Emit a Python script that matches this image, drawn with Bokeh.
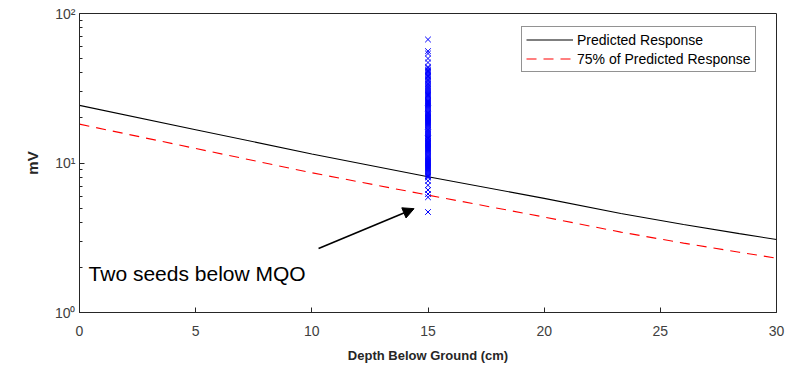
from bokeh.plotting import figure
from bokeh.models import (ColumnDataSource, FixedTicker, Legend, LegendItem,
                          Arrow, NormalHead, Label)
from bokeh.embed import file_html
from bokeh.resources import INLINE

# ---- data ----
depth_cm = [0, 5, 10, 15, 20, 23.3, 26, 28.4, 30]
predicted_mv = [24.3, 16.7, 11.5, 8.1, 5.8, 4.6, 3.88, 3.37, 3.08]
predicted75_mv = [18.2, 12.5, 8.6, 6.1, 4.35, 3.45, 2.91, 2.53, 2.31]

seed_depth_cm = 15.0
seed_mv = [67, 56, 54, 50, 47, 44, 43, 42, 41.2, 40.5, 39.7, 39, 38.2, 37.5,
           36.7, 36, 35.2, 34.5, 33.7, 33, 32.5, 32, 31.5, 31, 30.5, 30, 29.5,
           29, 28.5, 28, 27.5, 27, 26.5, 26, 25.6, 25.2, 24.8, 24.4, 24, 23.6,
           23.2, 22.8, 22.4, 22, 21.6, 21.3, 20.9, 20.6, 20.3, 20, 19.7, 19.4,
           19.1, 18.8, 18.5, 18.2, 17.9, 17.6, 17.3, 17, 16.7, 16.5, 16.2, 16,
           15.7, 15.5, 15.2, 15, 14.7, 14.5, 14.2, 14, 13.8, 13.6, 13.4, 13.2,
           13, 12.8, 12.6, 12.4, 12.2, 12, 11.8, 11.6, 11.4, 11.2, 11.05, 10.9,
           10.75, 10.6, 10.45, 10.3, 10.15, 10, 9.85, 9.7, 9.55, 9.4, 9.25,
           9.1, 8.95, 8.8, 8.65, 8.5, 8.35, 8.2, 8.1, 8.0, 7.6, 7.1, 6.6, 6.2,
           5.9, 4.7]

x_ticks = [0, 5, 10, 15, 20, 25, 30]
y_ticks = [1, 10, 100]
y_minor = [2, 3, 4, 5, 6, 7, 8, 9, 20, 30, 40, 50, 60, 70, 80, 90]
y_tick_labels = {1: "10\u2070", 10: "10\u00b9", 100: "10\u00b2"}

FONT = "Liberation Sans"
AX = "#262626"
LBL = "#404040"

p = figure(width=792, height=366, x_range=(0, 30), y_range=(1, 100),
           y_axis_type="log", output_backend="svg", toolbar_location=None,
           min_border_left=79, min_border_right=16, min_border_top=13,
           min_border_bottom=54)
p.grid.visible = False
p.outline_line_color = AX
p.outline_line_width = 1
p.background_fill_color = "white"
p.border_fill_color = "white"

# bottom axis
xa = p.xaxis[0]
xa.ticker = FixedTicker(ticks=x_ticks)
xa.axis_label = "Depth Below Ground (cm)"
xa.axis_label_text_font = FONT
xa.axis_label_text_font_style = "bold"
xa.axis_label_text_font_size = "13px"
xa.axis_label_text_color = AX
xa.axis_label_standoff = 9
xa.major_label_text_font = FONT
xa.major_label_text_font_size = "14px"
xa.major_label_text_color = LBL
xa.major_label_standoff = 13
xa.major_tick_in = 5
xa.major_tick_out = 0
xa.minor_tick_in = 0
xa.minor_tick_out = 0
xa.axis_line_color = AX
xa.major_tick_line_color = AX

# left axis
ya = p.yaxis[0]
ya.ticker = FixedTicker(ticks=y_ticks, minor_ticks=y_minor)
ya.major_label_overrides = y_tick_labels
ya.axis_label = "mV"
ya.axis_label_text_font = FONT
ya.axis_label_text_font_style = "bold"
ya.axis_label_text_font_size = "15px"
ya.axis_label_text_color = AX
ya.axis_label_standoff = 11
ya.major_label_text_font = FONT
ya.major_label_text_font_size = "14px"
ya.major_label_text_color = LBL
ya.major_label_standoff = 4
ya.major_tick_in = 5
ya.major_tick_out = 0
ya.minor_tick_in = 3
ya.minor_tick_out = 0
ya.axis_line_color = AX
ya.major_tick_line_color = AX
ya.minor_tick_line_color = AX

# lines
src_pred = ColumnDataSource(dict(x=depth_cm, y=predicted_mv))
src_75 = ColumnDataSource(dict(x=depth_cm, y=predicted75_mv))
r_pred = p.line("x", "y", source=src_pred, line_color="#000000", line_width=1.1)
r_75 = p.line("x", "y", source=src_75, line_color="#FF0000", line_width=1.1,
              line_dash="10 7")

# seeds
src_seed = ColumnDataSource(dict(x=[seed_depth_cm] * len(seed_mv), y=seed_mv))
p.scatter("x", "y", source=src_seed, marker="x", size=8, line_color="#0000FF",
          line_width=1)

legend = Legend(items=[LegendItem(label="Predicted Response", renderers=[r_pred]),
                       LegendItem(label="75% of Predicted Response", renderers=[r_75])],
                location=(442, 240))
legend.label_text_font = FONT
legend.label_text_font_size = "14px"
legend.label_text_color = "#000000"
legend.glyph_width = 47
legend.glyph_height = 17
legend.label_height = 17
legend.label_standoff = 4
legend.spacing = 2
legend.padding = 4
legend.margin = 0
legend.border_line_color = AX
legend.border_line_width = 1
legend.background_fill_color = "white"
legend.background_fill_alpha = 1
p.add_layout(legend, "center")

# annotation
p.add_layout(Arrow(end=NormalHead(size=11, fill_color="black", line_color="black"),
                   x_start=10.29, y_start=2.68, x_end=14.4, y_end=4.95,
                   line_color="black", line_width=1.6))
p.add_layout(Label(x=0.39, y=1.82, text="Two seeds below MQO",
                   text_font=FONT, text_font_size="21px", text_color="black",
                   text_baseline="alphabetic"))

open("out.html", "w").write(file_html(p, INLINE))
